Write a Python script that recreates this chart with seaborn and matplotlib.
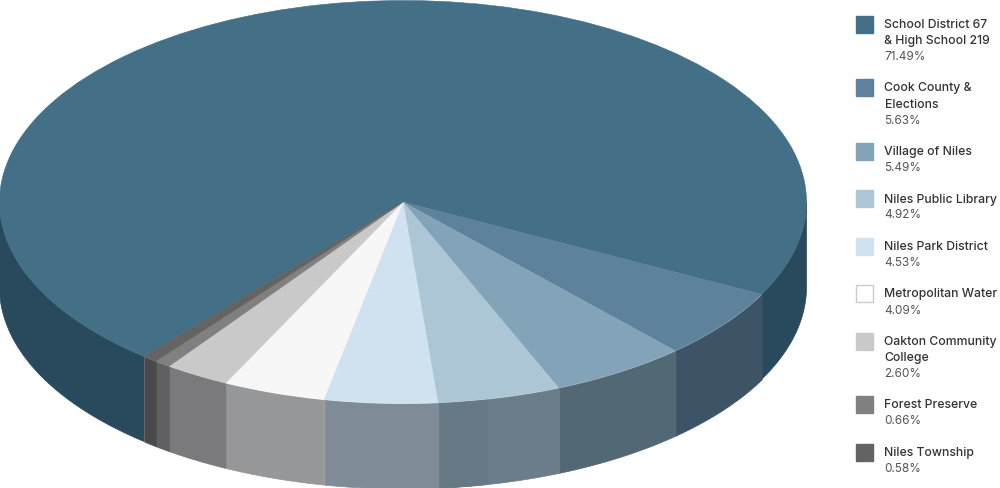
# Tax bill share by taxing body, drawn as a tilted pie with a side wall
import numpy as np
import matplotlib
matplotlib.use('Agg')
import matplotlib.pyplot as plt
from matplotlib.patches import Rectangle
import seaborn as sns

names = ['School District 67\n& High School 219', 'Cook County &\nElections', 'Village of Niles',
         'Niles Public Library', 'Niles Park District', 'Metropolitan Water',
         'Oakton Community\nCollege', 'Forest Preserve', 'Niles Township']
shares = [71.49, 5.63, 5.49, 4.92, 4.53, 4.09, 2.60, 0.66, 0.58]
share_labels = ['71.49%', '5.63%', '5.49%', '4.92%', '4.53%', '4.09%', '2.60%', '0.66%', '0.58%']

top_colors = ['#436F87', '#5E829C', '#83A4B8', '#ADC6D6', '#D0E2F0',
              '#F7F7F7', '#C9C9C9', '#808080', '#636363']
wall_colors = ['#294A5D', '#3C5466', '#536875', '#6B7D88', '#7F8C98',
               '#969799', '#7A7A7C', '#5F6062', '#4A4A4C']

START_ANGLE = 230.1
DEPTH = 85 / 201.5  # wall height in pie radii (y axis)

sns.set_theme(style='white')
plt.rcParams['font.family'] = ['Inter', 'DejaVu Sans']

fig = plt.figure(figsize=(10, 4.88), dpi=100)
ax = fig.add_axes([0, 0, 1, 1])

# Walls first, the top of the pie goes over them
edges = START_ANGLE - np.cumsum([0] + shares) / 100 * 360
for i, color in enumerate(wall_colors):
    t = np.radians(np.linspace(edges[i], edges[i + 1], 1500))
    x, y = np.cos(t), np.sin(t)
    ax.fill_between(x, y, y - DEPTH, where=y < 0.001, facecolor=color, edgecolor=color, lw=0.5)

# The library wall is a shade darker on its left part
t = np.radians(np.linspace(edges[3] - 0.6 * (edges[3] - edges[4]), edges[4], 300))
ax.fill_between(np.cos(t), np.sin(t), np.sin(t) - DEPTH, facecolor='#667985', edgecolor='#667985', lw=0.3)

# Faint seams on the lighter walls
for angle in edges[4:7]:
    xs, ys = np.cos(np.radians(angle)), np.sin(np.radians(angle))
    ax.plot([xs, xs], [ys, ys - DEPTH], color='#FFFFFF', alpha=0.12, lw=0.8)

wedges, _ = ax.pie(shares, colors=sns.color_palette(top_colors), startangle=START_ANGLE,
                   counterclock=False, radius=1)
for wedge, color in zip(wedges, top_colors):
    wedge.set_edgecolor(color)
    wedge.set_linewidth(0.4)

# Squash the circle: one radius is 403.5 px across and 201.5 px down
ax.set_aspect('auto')
ax.set_xlim(-403 / 403.5, 597 / 403.5)
ax.set_ylim((202 - 488) / 201.5, 202 / 201.5)
ax.axis('off')

# Legend in pixel coordinates
lax = fig.add_axes([0, 0, 1, 1])
lax.set_xlim(0, 1000)
lax.set_ylim(488, 0)
lax.axis('off')
lax.patch.set_alpha(0)

y_pos = 15.5
for name, label, color in zip(names, share_labels, top_colors):
    edge = '#CCCCCC' if color == '#F7F7F7' else color
    face = '#FFFFFF' if color == '#F7F7F7' else color
    lax.add_patch(Rectangle((855.5, y_pos), 17, 17, facecolor=face, edgecolor=edge, lw=1))
    lines = name.split('\n')
    row = y_pos + 9.5
    for line in lines:
        lax.text(884.5, row, line, fontsize=8.8, fontweight='medium', color='#333333', va='center')
        row += 16
    lax.text(884.5, row, label, fontsize=8.5, color='#555555', va='center')
    y_pos += 16 * (len(lines) + 1) + 15.5

fig.savefig('out.png', dpi=100)
